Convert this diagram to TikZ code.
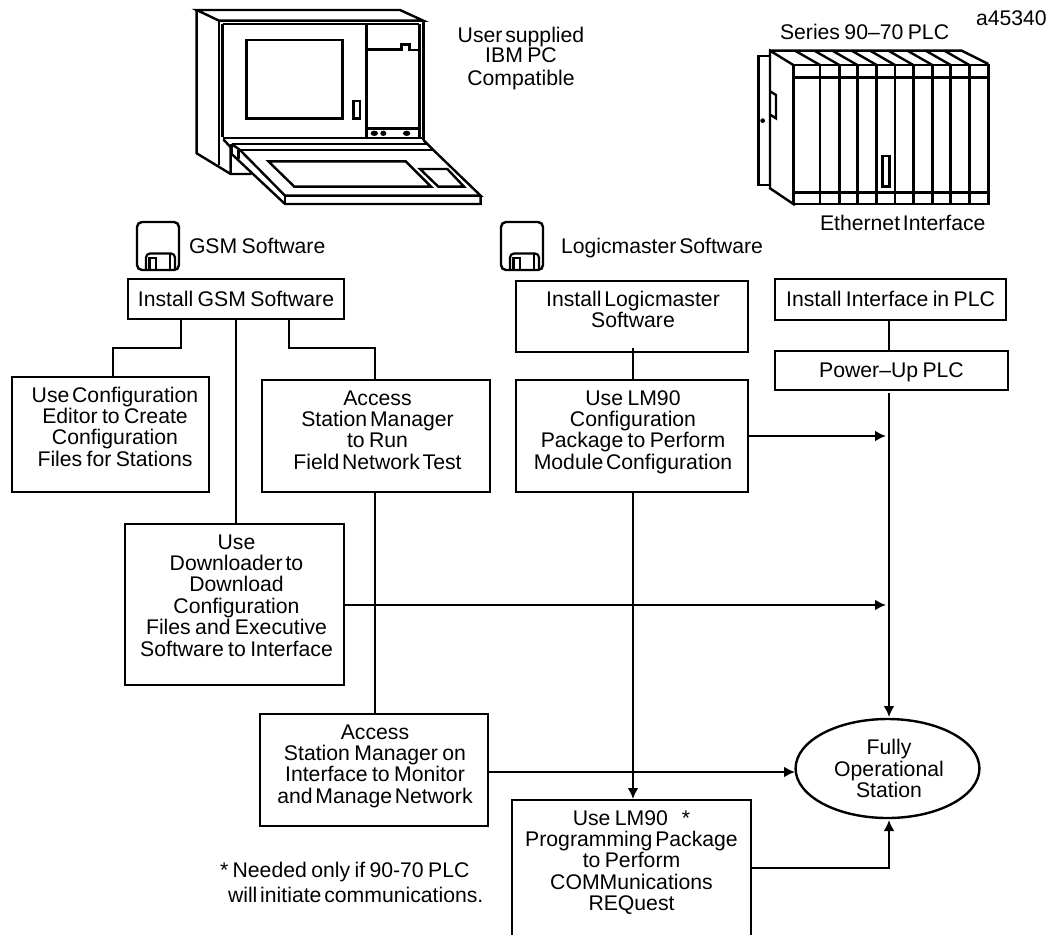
\documentclass[tikz,border=0pt]{standalone}
\usepackage{fontspec}
\setmainfont{Liberation Sans}
\usetikzlibrary{arrows.meta,shapes.geometric}
\newcommand\ts[1]{{\spaceskip=2.8pt\relax #1}}
\newcommand\tm[1]{{\spaceskip=4.4pt\relax #1}}
\newcommand\fs{\fontsize{21.2}{21.4}\selectfont}
% name, x, y, w, h, first-baseline offset, text shift (twice), text
\newcommand\bx[8]{\node[boxn,anchor=north west] (#1) at (#2,#3) {\parbox[c][#5pt][t]{#4pt}{%
  \centering\leftskip=#7pt plus 1fil\relax
  \vspace*{\dimexpr#6pt-16pt\relax}\rule{0pt}{16pt}#8\par}};}
\tikzset{
 boxn/.style={draw=black,line width=2.4pt,fill=white,inner sep=0pt,outer sep=0pt,font=\fs},
 lab/.style={inner sep=0pt,outer sep=0pt,font=\fs,anchor=base west},
 conn/.style={line width=2.4pt,draw=black},
 arr/.style={conn,-{Latex[length=11pt,width=11pt,sharp]}},
 pic/.style={line width=2.4pt,draw=black,line join=miter},
}
\begin{document}
\begin{tikzpicture}[x=1pt,y=-1pt]
\useasboundingbox (0,0) rectangle (1051,934);
% PC
\begin{scope}[shift={(130,0)},x=0.3333pt,y=-0.3333pt]
 \draw[pic] (200,30) -- (810,30) -- (880,62) -- (267,62) -- cycle;
 \draw[pic] (200,30) -- (200,460) -- (302,522) -- (365,522);
 \draw[pic] (267,62) -- (267,495);
 \draw[pic] (278,72) -- (868,72);
 \draw[pic] (278,72) -- (278,412);
 \draw[pic] (880,62) -- (880,420);
 \draw[pic] (868,72) -- (868,412);
 \draw[pic] (349,120) rectangle (638,355);
 \draw[pic] (670,303) rectangle (690,355);
 \draw[pic] (710,72) -- (710,412);
 \draw[pic] (710,148) -- (815,148) -- (815,133) -- (838,133) -- (838,150) -- (868,150);
 \draw[pic] (710,385) -- (868,385);
 \fill (733,400) ellipse (11 and 8) (760,400) ellipse (9 and 8) (830,400) ellipse (11 and 8);
 \draw[pic] (278,414) -- (885,414);
 \draw[pic] (280,418) -- (302,442) -- (302,522);
 \draw[pic] (305,432) -- (895,432);
 \draw[pic] (330,450) -- (910,450);
 \draw[pic] (305,432) -- (330,450) -- (465,587) -- (1052,587) -- (910,450) -- (880,420);
 \draw[pic] (305,462) -- (465,612) -- (1052,612) -- (1052,587);
 \draw[pic] (305,432) -- (305,462) (325,450) -- (325,478);
 \draw[pic] (465,587) -- (465,612);
 \draw[pic] (415,484) -- (827,484) -- (903,560) -- (493,560) -- cycle;
 \draw[pic] (870,507) -- (952,507) -- (1002,560) -- (925,560) -- cycle;
\end{scope}
% PLC
\begin{scope}[shift={(730,0)},x=0.3333pt,y=-0.3333pt]
 \draw[pic] (118,168) -- (85,168) -- (85,555) -- (118,555);
 \draw[pic] (120,152) -- (120,565) -- (190,612) -- (190,195) -- cycle;
 \fill (98,362) circle (7);
 \draw[pic] (122,275) -- (138,285) -- (138,355) -- (122,345);
 \draw[pic] (120,152) -- (695,152) -- (775,192);
 \draw[pic] (190,195) rectangle (775,612);
 \draw[pic] (190,232) -- (775,232) (190,578) -- (775,578);
 \foreach \x in {270,328,382,440,495,550,607,662,718} {
   \draw[pic] (\x,195) -- (\x,612);
   \draw[pic] (\x-75,152) -- (\x,195);
 }
 \draw[pic] (458,468) rectangle (478,560);
\end{scope}
% floppies
\foreach \fx in {137,501} {
 \begin{scope}[shift={(\fx,222)},x=1pt,y=-1pt]
  \draw[pic,rounded corners=5pt] (0,0) rectangle (42,48);
  \draw[line width=2.2pt,rounded corners=4pt] (9,48) -- (9,31.5) -- (38,31.5) -- (38,48);
  \draw[line width=2.2pt] (12.5,48) -- (12.5,36) -- (19,36) -- (19,48);
  \draw[line width=2.2pt] (33,31.5) -- (33,48);
 \end{scope}
}
% free labels
\node[lab,anchor=base] (pc1) at (521,42) {\ts{User supplied}};
\node[lab,anchor=base] (pc2) at (521,63) {\tm{IBM PC}};
\node[lab,anchor=base] (pc3) at (521,85) {Compatible};
\node[lab] (ser) at (780,40) {\tm{Series 90--70 PLC}};
\node[lab] (aid) at (976,26) {a45340};
\node[lab] (eth) at (820,230) {\ts{Ethernet Interface}};
\node[lab] (gsm) at (189,253) {\tm{GSM Software}};
\node[lab] (lgm) at (561,253) {\ts{Logicmaster Software}};
\node[lab] (n1) at (220,877) {\tm{* Needed only if 90-70 PLC}};
\node[lab] (n2) at (228,902) {\ts{will initiate communications.}};
% boxes
\bx{igsm}{128}{279}{216}{40}{27}{0}{\tm{Install GSM Software}}
\bx{cfg}{12}{377}{197}{115}{25}{9}{\ts{Use Configuration}\\\tm{Editor to Create}\\Configuration\\\tm{Files for Stations}}
\bx{acc}{262}{380}{228}{112}{25}{3}{Access\\\ts{Station Manager}\\\tm{to Run}\\\ts{Field Network Test}}
\bx{dl}{125}{524}{219}{161}{25}{4}{Use\\\ts{Downloader to}\\Download\\Configuration\\\tm{Files and Executive}\\\tm{Software to Interface}}
\bx{acc2}{260}{714}{228}{112}{25}{2}{Access\\\tm{Station Manager on}\\\tm{Interface to Monitor}\\\ts{and Manage Network}}
\bx{ilm}{516}{281}{232}{71}{25}{2}{\ts{Install Logicmaster}\\Software}
\bx{lm}{516}{380}{232}{112}{25}{2}{\tm{Use LM90}\\Configuration\\\tm{Package to Perform}\\\ts{Module Configuration}}
\bx{iif}{775}{279}{231}{41}{27}{0}{\tm{Install Interface in PLC}}
\bx{pwr}{775}{351}{233}{39}{26}{0}{\tm{Power--Up PLC}}
\bx{prog}{512}{800}{239}{140}{25}{0}{\tm{Use LM90}\hspace{14pt}*\\\ts{Programming Package}\\\tm{to Perform}\\COMMunications\\REQuest}
\node[boxn,ellipse,minimum width=181pt,minimum height=99pt,align=center] (op) at (887.5,768.5) {\parbox{130pt}{\centering\leftskip=3pt plus 1fil\relax Fully\\Operational\\Station}};
% junction coordinates
\coordinate (jv) at (889,393);
% connectors
\draw[conn] (181,319) -- (181,348) -- (113,348) -- (113,377);
\draw[conn] (236,319) -- (236,524);
\draw[conn] (289,319) -- (289,348) -- (375,348) -- (375,380);
\draw[conn] (375,492) -- (375,714);
\draw[conn] (633,348) -- (633,380);
\draw[conn] (889,320) -- (889,351);
\draw[arr] (jv) -- (889,717);
\draw[arr] (748,436) -- (886,436);
\draw[arr] (344,605) -- (886,605);
\draw[arr] (488,772) -- (795,772);
\draw[arr] (633,492) -- (633,799);
\draw[arr] (751,868) -- (889,868) -- (889,820);
\end{tikzpicture}
\end{document}
